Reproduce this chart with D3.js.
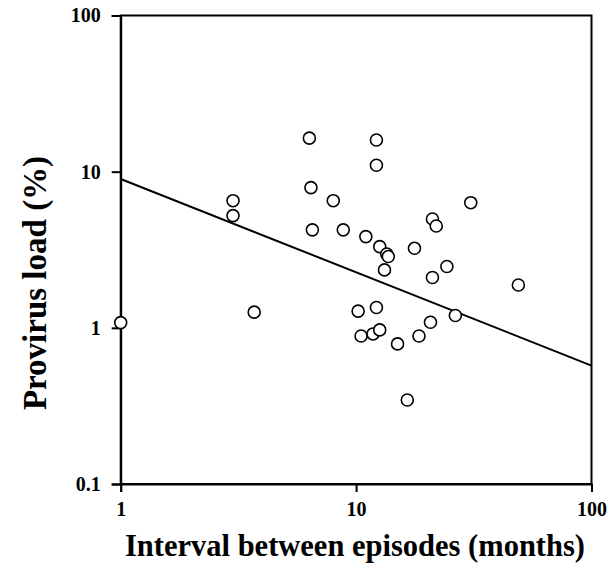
<!DOCTYPE html>
<html>
<head>
<meta charset="utf-8">
<script src="https://cdn.jsdelivr.net/npm/d3@7"></script>
<style>
  body { margin: 0; background: #fff; }
  svg text { font-family: "Liberation Serif", "Times New Roman", serif; font-weight: bold; fill: #000; }
</style>
</head>
<body>
<div id="chart"></div>
<script>
// data
const intervalMonths = [1, 3.0, 3.0, 3.69, 6.33, 6.43, 6.52, 8.0, 8.82, 11.0, 12.2, 12.2, 12.6, 13.5, 13.7, 13.2, 17.7,
  21.1, 21.9, 21.1, 24.3, 30.7, 48.9, 10.2, 12.2, 10.5, 11.8, 12.6, 15.0, 18.5, 20.7, 26.4, 16.5];
const provirusLoad = [1.08, 6.52, 5.23, 1.26, 16.4, 7.9, 4.24, 6.52, 4.24, 3.84, 15.96, 11.0, 3.31, 2.97, 2.86, 2.35, 3.23,
  4.98, 4.49, 2.1, 2.47, 6.33, 1.88, 1.28, 1.35, 0.887, 0.914, 0.97, 0.789, 0.887, 1.086, 1.2, 0.345];
const fitX = [1, 100];
const fitY = [8.98, 0.573];
const xTicks = [1, 10, 100];
const yTicks = [0.1, 1, 10, 100];

const width = 613, height = 578;
const margin = { top: 15.5, right: 21.5, bottom: 94, left: 120.7 };

const svg = d3.select("#chart").append("svg")
  .attr("width", width)
  .attr("height", height);

const x = d3.scaleLog().domain([1, 100]).range([margin.left, width - margin.right]);
const y = d3.scaleLog().domain([0.1, 100]).range([height - margin.bottom, margin.top]);

// frame
svg.append("rect")
  .attr("x", x(1)).attr("y", y(100))
  .attr("width", x(100) - x(1)).attr("height", y(0.1) - y(100))
  .attr("fill", "none").attr("stroke", "#000").attr("stroke-width", 2);

// axes
const xAxis = svg.append("g")
  .attr("transform", `translate(0,${y(0.1)})`)
  .call(d3.axisBottom(x).tickValues(xTicks).tickFormat(d3.format("")).tickSize(8).tickPadding(10));
const yAxis = svg.append("g")
  .attr("transform", `translate(${x(1)},0)`)
  .call(d3.axisLeft(y).tickValues(yTicks).tickFormat(d => d).tickSize(9).tickPadding(11));

[xAxis, yAxis].forEach(g => {
  g.attr("font-size", 20).attr("font-family", null);
  g.select(".domain").attr("stroke-width", 2);
  g.selectAll(".tick line").attr("stroke-width", 2);
});

// regression line
svg.append("line")
  .attr("x1", x(fitX[0])).attr("y1", y(fitY[0]))
  .attr("x2", x(fitX[1])).attr("y2", y(fitY[1]))
  .attr("stroke", "#000").attr("stroke-width", 2);

// points
svg.selectAll("circle.pt")
  .data(intervalMonths.map((d, i) => [d, provirusLoad[i]]))
  .enter().append("circle")
  .attr("class", "pt")
  .attr("cx", d => x(d[0]))
  .attr("cy", d => y(d[1]))
  .attr("r", 6)
  .attr("fill", "#fff")
  .attr("stroke", "#000")
  .attr("stroke-width", 1.6);

// axis titles
svg.append("text")
  .attr("x", 355)
  .attr("y", 556)
  .attr("text-anchor", "middle")
  .attr("font-size", 30.5)
  .text("Interval between episodes (months)");

svg.append("text")
  .attr("transform", `translate(46,${283}) rotate(-90)`)
  .attr("text-anchor", "middle")
  .attr("font-size", 33)
  .text("Provirus load (%)");
</script>
</body>
</html>
